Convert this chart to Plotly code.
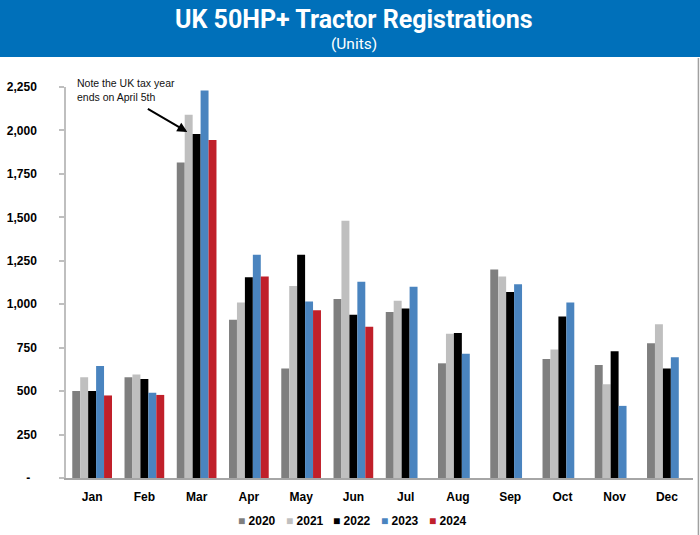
import plotly.graph_objects as go

months = ["Jan", "Feb", "Mar", "Apr", "May", "Jun", "Jul", "Aug", "Sep", "Oct", "Nov", "Dec"]
years = ["2020", "2021", "2022", "2023", "2024"]
v2020 = [500, 580, 1815, 910, 630, 1030, 955, 660, 1200, 685, 650, 775]
v2021 = [580, 595, 2090, 1010, 1105, 1480, 1020, 830, 1160, 740, 540, 885]
v2022 = [500, 570, 1980, 1155, 1285, 940, 975, 835, 1070, 930, 730, 630]
v2023 = [645, 490, 2230, 1285, 1015, 1130, 1100, 715, 1115, 1010, 415, 695]
v2024 = [475, 478, 1945, 1160, 965, 870, None, None, None, None, None, None]
series = [v2020, v2021, v2022, v2023, v2024]
colors = ["#7F7F7F", "#BFBFBF", "#000000", "#4A84BF", "#C0202A"]

ytickvals = [0, 250, 500, 750, 1000, 1250, 1500, 1750, 2000, 2250]
yticktext = ["-\u00a0\u00a0", "250", "500", "750", "1,000", "1,250", "1,500", "1,750", "2,000", "2,250"]

fig = go.Figure()
for name, vals, col in zip(years, series, colors):
    fig.add_trace(go.Bar(x=months, y=vals, name=name, marker=dict(color=col, line=dict(width=0)),
                         showlegend=False))

W, H = 700, 535
L, R, T, B = 58, 6.5, 87, 57
pw, ph = W - L - R, H - T - B

def px(x):
    return (x - L) / pw

def py(y):
    return (H - B - y) / ph

annotations = [
    dict(text="<b>UK 50HP+ Tractor Registrations</b>", xref="paper", yref="paper",
         x=px(350), y=py(19.5), xanchor="center", yanchor="middle", showarrow=False,
         font=dict(size=25, color="white", family="Liberation Sans Narrow, Roboto, Arial")),
    dict(text="(Units)", xref="paper", yref="paper",
         x=px(350), y=py(44.5), xanchor="center", yanchor="middle", showarrow=False,
         font=dict(size=15.5, color="white", family="Liberation Sans Narrow, Roboto, Arial")),
    dict(text="Note the UK tax year<br>ends on April 5th", xref="paper", yref="paper",
         x=px(67), y=py(89.5), xanchor="left", yanchor="middle", align="left", showarrow=False,
         font=dict(size=10.5, color="#111111", family="Liberation Sans, Arial")),
    dict(text="", xref="paper", yref="paper", x=px(181), y=py(132),
         ax=140 - 181, ay=108 - 132, axref="pixel", ayref="pixel",
         showarrow=True, arrowhead=2, arrowsize=1, arrowwidth=2, arrowcolor="#000000"),
]

# legend entries (square swatch + bold year), laid out in one row under the axis
leg_x0, leg_step = 230, 48.5
for i, (name, col) in enumerate(zip(years, colors)):
    annotations.append(dict(
        text=f'<span style="color:{col}">■</span> <b>{name}</b>',
        xref="paper", yref="paper", x=px(leg_x0 + i * leg_step), y=py(521),
        xanchor="left", yanchor="middle", showarrow=False,
        font=dict(size=12, color="#000000", family="Liberation Sans, Arial")))

fig.update_layout(
    width=W, height=H,
    margin=dict(l=L, r=R, t=T, b=B),
    paper_bgcolor="white", plot_bgcolor="white",
    barmode="group", bargap=0.24, bargroupgap=0,
    font=dict(family="Liberation Sans, Arial", color="#000000"),
    showlegend=False,
    xaxis=dict(showline=True, linecolor="#A6A6A6", linewidth=1.5, ticks="", showgrid=False,
               tickfont=dict(size=12, weight="bold"), ticklabelstandoff=7, fixedrange=True),
    yaxis=dict(range=[0, 2250], showline=True, linecolor="#BFBFBF", linewidth=1.5,
               ticks="outside", ticklen=5, tickcolor="#BFBFBF", tickwidth=1.5,
               tickvals=ytickvals, ticktext=yticktext, showgrid=False, zeroline=False,
               tickfont=dict(size=12, weight="bold"), ticklabelstandoff=20),
    shapes=[
        dict(type="rect", xref="paper", yref="paper", x0=-0.2, x1=1.2, y0=py(57), y1=py(-10),
             fillcolor="#0070BA", line=dict(width=0), layer="below"),
        dict(type="line", xref="paper", yref="paper", x0=px(699), x1=px(699), y0=py(58), y1=py(540),
             line=dict(color="#A0A0A0", width=1.5)),
    ],
    annotations=annotations,
)

fig.write_html("out.html")
